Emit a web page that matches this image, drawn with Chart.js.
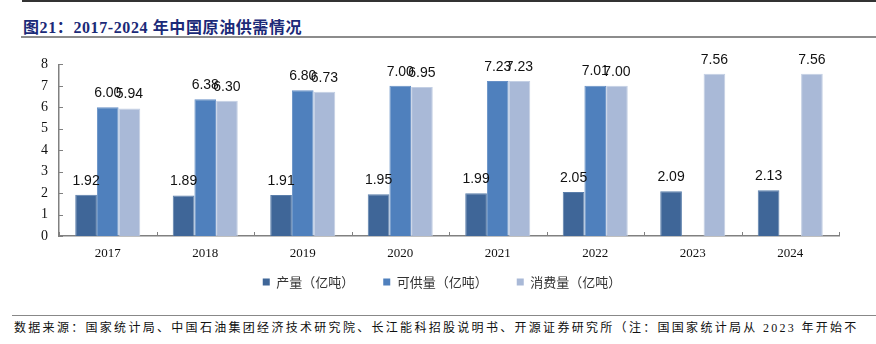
<!DOCTYPE html>
<html>
<head>
<meta charset="utf-8">
<script src="https://cdn.jsdelivr.net/npm/chart.js@4/dist/chart.umd.min.js"></script>
<style>
  body { margin: 0; width: 876px; height: 344px; background: #fff; position: relative; overflow: hidden; }
  #topline { position: absolute; left: 22px; right: 0; top: 0; height: 2px; background: #333; }
  #title { position: absolute; left: 23px; top: 14px; font: bold 16px "Liberation Serif", "Noto Sans CJK SC", serif; color: #1b2a78; letter-spacing: 0.6px; white-space: nowrap; }
  #titleline { position: absolute; left: 21px; right: 0; top: 36px; height: 2px; background: #8c8c8c; }
  #box { position: absolute; left: 0; top: 45px; width: 876px; height: 255px; }
  #footline { position: absolute; left: 12px; right: 0; top: 315px; height: 1px; background: #888; }
  #source { position: absolute; left: 14px; top: 318px; font: 12px "Liberation Serif", "Noto Sans CJK SC", serif; color: #111; letter-spacing: 2.3px; white-space: nowrap; }
</style>
</head>
<body>
<div id="topline"></div>
<div id="title">图21：2017-2024 年中国原油供需情况</div>
<div id="titleline"></div>
<div id="box"><canvas id="myChart"></canvas></div>
<div id="footline"></div>
<div id="source">数据来源：国家统计局、中国石油集团经济技术研究院、长江能科招股说明书、开源证券研究所（注：国国家统计局从 2023 年开始不</div>
<script>
// Chart data
const years = ['2017', '2018', '2019', '2020', '2021', '2022', '2023', '2024'];
const production = [1.92, 1.89, 1.91, 1.95, 1.99, 2.05, 2.09, 2.13];
const supply = [6.00, 6.38, 6.80, 7.00, 7.23, 7.01, null, null];
const consumption = [5.94, 6.30, 6.73, 6.95, 7.23, 7.00, 7.56, 7.56];
const yTicks = [0, 1, 2, 3, 4, 5, 6, 7, 8];

// Draws value labels above each bar
const barLabels = {
    id: 'barLabels',
    afterDatasetsDraw(chart) {
        const ctx = chart.ctx;
        ctx.save();
        ctx.font = '14px "Liberation Sans", sans-serif';
        ctx.fillStyle = '#111';
        ctx.textAlign = 'center';
        ctx.textBaseline = 'bottom';
        chart.data.datasets.forEach((ds, i) => {
            chart.getDatasetMeta(i).data.forEach((bar, j) => {
                if (ds.data[j] == null) return;
                ctx.fillText(ds.data[j].toFixed(2), bar.x, bar.y - 7);
            });
        });
        ctx.restore();
    }
};

// Small inward tick marks on both axes
const innerTicks = {
    id: 'innerTicks',
    afterDraw(chart) {
        const ctx = chart.ctx;
        const y = chart.scales.y;
        const area = chart.chartArea;
        ctx.save();
        ctx.strokeStyle = '#808080';
        ctx.lineWidth = 1;
        ctx.beginPath();
        y.ticks.forEach((t) => {
            const py = Math.round(y.getPixelForValue(t.value)) + 0.5;
            ctx.moveTo(area.left, py);
            ctx.lineTo(area.left + 4, py);
        });
        for (let i = 0; i <= years.length; i++) {
            const px = Math.round(area.left + (area.right - area.left) * i / years.length) + 0.5;
            ctx.moveTo(px, area.bottom);
            ctx.lineTo(px, area.bottom - 4);
        }
        ctx.stroke();
        ctx.restore();
    }
};

// Legend row under the axis (wider spacing than the built-in one allows)
const bottomLegend = {
    id: 'bottomLegend',
    afterDraw(chart) {
        const ctx = chart.ctx;
        const gap = 29;
        ctx.save();
        ctx.font = '13px "Noto Sans CJK SC", sans-serif';
        ctx.textBaseline = 'middle';
        const items = chart.data.datasets.map((ds) => ({
            text: ds.label,
            color: ds.backgroundColor,
            w: 7 + 6.5 + ctx.measureText(ds.label).width
        }));
        const total = items.reduce((s, it) => s + it.w, 0) + gap * (items.length - 1);
        let x = 442 - total / 2;
        const cy = 237;
        items.forEach((it) => {
            ctx.fillStyle = it.color;
            ctx.fillRect(x, cy - 3.5, 7, 7);
            ctx.fillStyle = '#333';
            ctx.fillText(it.text, x + 13.5, cy);
            x += it.w + gap;
        });
        ctx.restore();
    }
};

const ctx = document.getElementById('myChart').getContext('2d');
const myChart = new Chart(ctx, {
    type: 'bar',
    data: {
        labels: years,
        datasets: [{
            label: '产量（亿吨）',
            data: production,
            backgroundColor: '#3f6698',
            borderColor: '#5a7eab',
            borderWidth: 1
        }, {
            label: '可供量（亿吨）',
            data: supply,
            backgroundColor: '#4f80bd',
            borderColor: '#6790c6',
            borderWidth: 1
        }, {
            label: '消费量（亿吨）',
            data: consumption,
            backgroundColor: '#a9b9d7',
            borderColor: '#c3cfe4',
            borderWidth: 1
        }]
    },
    options: {
        responsive: true,
        maintainAspectRatio: false,
        animation: false,
        datasets: {
            bar: {
                categoryPercentage: 0.667,
                barPercentage: 1.0
            }
        },
        layout: {
            padding: { left: 0, right: 37, top: 19, bottom: 37 }
        },
        scales: {
            y: {
                min: 0,
                max: 8,
                afterBuildTicks: (scale) => {
                    scale.ticks = yTicks.map((v) => ({ value: v }));
                },
                afterFit: (scale) => {
                    scale.width = 59;
                },
                grid: { display: false, drawTicks: false },
                border: { display: true, color: '#808080', width: 1.5 },
                ticks: {
                    autoSkip: false,
                    padding: 11,
                    color: '#111',
                    font: { family: '"Liberation Serif", serif', size: 14 }
                }
            },
            x: {
                afterFit: (scale) => {
                    scale.height = 27;
                },
                grid: { display: false, drawTicks: false },
                border: { display: true, color: '#808080', width: 1.5 },
                ticks: {
                    padding: 10,
                    color: '#111',
                    font: { family: '"Liberation Serif", serif', size: 13 }
                }
            }
        },
        plugins: {
            legend: { display: false },
            tooltip: { enabled: false }
        }
    },
    plugins: [barLabels, innerTicks, bottomLegend]
});
</script>
</body>
</html>
